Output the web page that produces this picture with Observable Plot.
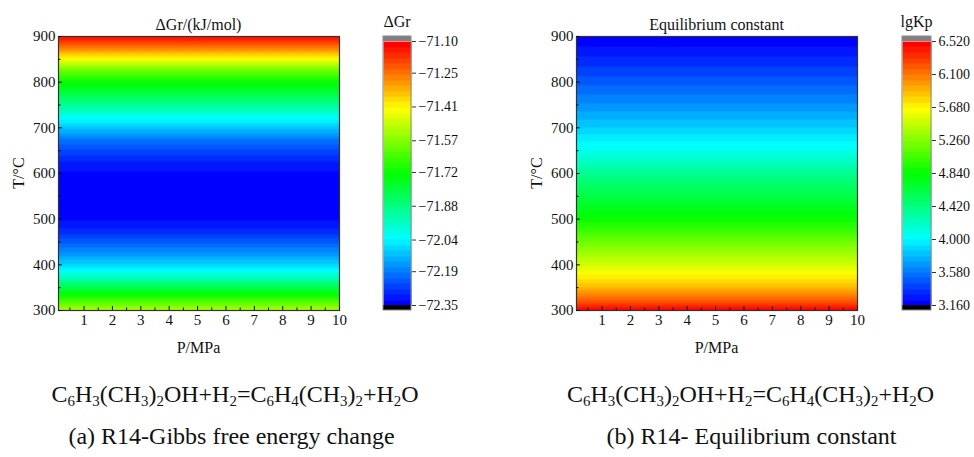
<!DOCTYPE html>
<html><head><meta charset="utf-8">
<script src="https://cdn.jsdelivr.net/npm/d3@7"></script>
<script src="https://cdn.jsdelivr.net/npm/@observablehq/plot@0.6"></script>
<style>
body{margin:0;background:#fff;}
#root{position:relative;width:974px;height:457px;overflow:hidden;font-family:"Liberation Serif","Times New Roman",serif;color:#111;background:#fff;}
#root svg{position:absolute;overflow:visible;}
.t{position:absolute;white-space:nowrap;text-align:center;line-height:1;}
sub{font-size:0.62em;vertical-align:-0.3em;line-height:0;}
</style></head><body><div id="root"></div>
<script>
// ---- data ----
const pressures = [0.1, 10];                       // MPa (values do not vary with P)
const temperatures = [300,325,350,375,400,425,450,475,500,525,550,575,600,625,650,675,700,725,750,775,800,825,850,875,900];
const deltaG = [-71.52,-71.67,-71.81,-71.97,-72.08,-72.16,-72.23,-72.29,-72.33,-72.35,-72.35,-72.35,-72.33,-72.30,-72.25,-72.19,-72.10,-72.01,-71.90,-71.80,-71.72,-71.60,-71.43,-71.26,-71.12];
const lgKp = [6.50,6.15,5.90,5.70,5.52,5.35,5.20,5.02,4.86,4.74,4.62,4.50,4.38,4.22,4.07,3.98,3.86,3.76,3.66,3.57,3.48,3.40,3.32,3.24,3.16];
const pTicks = [1,2,3,4,5,6,7,8,9,10];
const pMinor = [0.5,1.5,2.5,3.5,4.5,5.5,6.5,7.5,8.5,9.5];
const tTicks = [300,400,500,600,700,800,900];
const tMinor = [350,450,550,650,750,850];
const dGTicks = [-71.10,-71.25,-71.41,-71.57,-71.72,-71.88,-72.04,-72.19,-72.35];
const lgKpTicks = [6.520,6.100,5.680,5.260,4.840,4.420,4.000,3.580,3.160];

const rainbow = d3.piecewise(d3.interpolateRgb, ["#0000ff","#00ffff","#00ff00","#ffff00","#ff0000"]);
const nLevels = 48;
const FONT = '"Liberation Serif","Times New Roman",serif';
const root = document.getElementById("root");

function addText(html, cx, baseline, fs, opts = {}) {
  const d = document.createElement("div");
  d.className = "t";
  d.innerHTML = html;
  d.style.fontSize = fs + "px";
  d.style.width = "600px";
  d.style.left = (cx - 300) + "px";
  d.style.top = (baseline - 0.8375 * fs) + "px";
  if (opts.rotate) {
    d.style.width = "200px";
    d.style.left = (cx - 100) + "px";
    d.style.top = (opts.cy - fs / 2) + "px";
    d.style.transform = "rotate(-90deg)";
  }
  root.appendChild(d);
}

function panel({x0, values, ticks, fmt, title, cbLabel, cbLeft, cbWidth, cbSvgWidth}) {
  const grid = [];
  temperatures.forEach((T, i) => pressures.forEach(P => grid.push({P, T, v: values[i]})));
  const lo = d3.min(ticks), hi = d3.max(ticks);
  const color = {type: "quantize", domain: [lo, hi], range: d3.quantize(rainbow, nLevels)};
  const style = {fontFamily: FONT, fontSize: "15px", color: "#111", background: "transparent", overflow: "visible"};

  const main = Plot.plot({
    width: 360, height: 360,
    marginLeft: 58, marginRight: 360 - 58 - 281, marginTop: 36, marginBottom: 50,
    style,
    x: {domain: [0.1, 10], label: null},
    y: {domain: [300, 900], label: null},
    color,
    marks: [
      Plot.raster(grid, {x: "P", y: "T", fill: "v", interpolate: "barycentric", x1: 0.1, x2: 10, y1: 300, y2: 900}),
      Plot.frame({stroke: "#333", strokeWidth: 1.2}),
      Plot.axisX(pTicks, {tickSize: -4, tickPadding: 8, label: null, stroke: "#111"}),
      Plot.axisX(pMinor, {tickSize: -2.5, tickFormat: () => "", label: null, stroke: "#111"}),
      Plot.axisY(tTicks, {tickSize: -4, tickPadding: 7, label: null, stroke: "#111"}),
      Plot.axisY(tMinor, {tickSize: -2.5, tickFormat: () => "", label: null, stroke: "#111"})
    ]
  });
  main.style.left = x0 + "px";
  main.style.top = "0px";
  root.appendChild(main);

  const cap = (hi - lo) * 5 / 264;
  const cb = Plot.plot({
    width: cbSvgWidth, height: 360,
    marginLeft: 13, marginRight: cbSvgWidth - 13 - cbWidth, marginTop: 41, marginBottom: 55,
    style: {...style, fontSize: "14px"},
    x: {domain: [0, 1], axis: null},
    y: {domain: [lo, hi], label: null},
    color,
    marks: [
      Plot.raster({fill: (x, y) => y, x1: 0, x2: 1, y1: lo, y2: hi}),
      Plot.rect([0], {x1: 0, x2: 1, y1: hi, y2: hi + cap, fill: "#808080"}),
      Plot.rect([0], {x1: 0, x2: 1, y1: lo - cap, y2: lo, fill: "#000"}),
      Plot.rect([0], {x1: 0, x2: 1, y1: lo - cap, y2: hi + cap, fill: "none", stroke: "#8a8a8a", strokeWidth: 1}),
      Plot.axisY(ticks, {anchor: "right", tickSize: 4, tickPadding: 3, tickFormat: fmt, label: null, stroke: "#333"})
    ]
  });
  cb.style.left = (cbLeft - 13) + "px";
  cb.style.top = "0px";
  root.appendChild(cb);

  const cx = x0 + 58 + 281 / 2;
  addText(title, cx, 30, 16);
  addText("P/MPa", cx, 353, 16);
  addText("T/°C", x0 + 19, 0, 16, {rotate: true, cy: 173});
  addText(cbLabel, cbLeft + cbWidth / 2, 27, 16);
}

panel({x0: 0, values: deltaG, ticks: dGTicks, fmt: d => d.toFixed(2).replace("-", "\u2212"),
  title: "ΔGr/(kJ/mol)", cbLabel: "ΔGr", cbLeft: 383, cbWidth: 28, cbSvgWidth: 100});
panel({x0: 518, values: lgKp, ticks: lgKpTicks, fmt: d => d.toFixed(3),
  title: "Equilibrium constant", cbLabel: "lgKp", cbLeft: 902, cbWidth: 29, cbSvgWidth: 85});

const formula = "C<sub>6</sub>H<sub>3</sub>(CH<sub>3</sub>)<sub>2</sub>OH+H<sub>2</sub>=C<sub>6</sub>H<sub>4</sub>(CH<sub>3</sub>)<sub>2</sub>+H<sub>2</sub>O";
addText(formula, 235, 402, 24);
addText(formula, 750.5, 402, 24);
addText("(a) R14-Gibbs free energy change", 231.5, 444, 24);
addText("(b) R14- Equilibrium constant", 751.5, 444, 24);
</script></body></html>
